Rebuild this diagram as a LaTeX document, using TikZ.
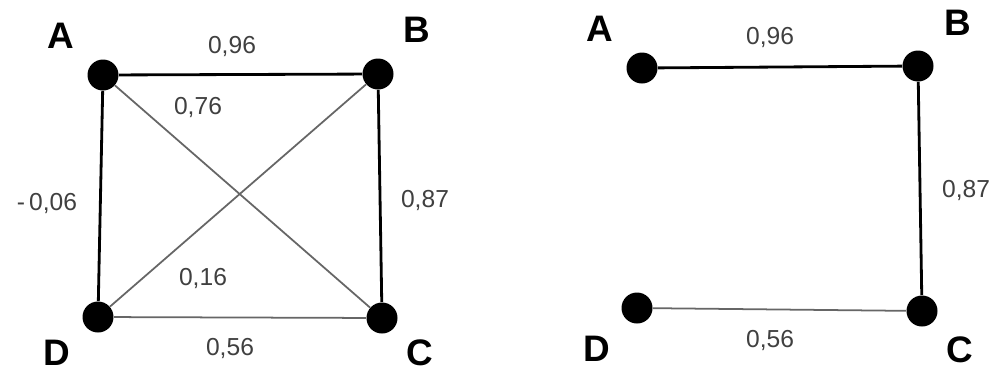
\documentclass[tikz,border=0pt]{standalone}
\usepackage{fontspec}
\setmainfont{Liberation Sans}
\usetikzlibrary{positioning}

\tikzset{
    vertex/.style={circle, fill=black, inner sep=0pt, minimum size=0.62cm},
    strong/.style={line width=1.6pt, black},
    weak/.style={line width=1pt, black!60},
    letter/.style={inner sep=0pt, font=\fontsize{21}{21}\selectfont\bfseries},
    weight/.style={inner sep=1pt, font=\fontsize{14}{14}\selectfont, text=black!75},
}

\begin{document}
\begin{tikzpicture}[x=0.02cm, y=-0.02cm]
    \useasboundingbox[fill=white] (0,0) rectangle (989,373);

    % full graph
    \node[vertex] (A1) at (103,75) {};
    \node[vertex] (B1) at (378,74) {};
    \node[vertex] (C1) at (382,318) {};
    \node[vertex] (D1) at (98,317) {};

    \draw[weak] (A1) -- (C1);
    \draw[weak] (B1) -- (D1);
    \draw[weak] (D1) -- (C1);
    \draw[strong] (A1) -- (B1);
    \draw[strong] (B1) -- (C1);
    \draw[strong] (A1) -- (D1);

    \node[letter] (la1) at (61,36) {A};
    \node[letter] (lb1) at (417,30) {B};
    \node[letter] (lc1) at (420,353) {C};
    \node[letter] (ld1) at (57,353) {D};

    \node[weight] (w_ab1) at (232,46) {0,96};
    \node[weight] (w_ac1) at (198,107) {0,76};
    \node[weight] (w_ad1) at (47,203) {-\,0,06};
    \node[weight] (w_bc1) at (425,200) {0,87};
    \node[weight] (w_bd1) at (203,278) {0,16};
    \node[weight] (w_dc1) at (230,348) {0,56};

    % reduced graph
    \node[vertex] (A2) at (642,68) {};
    \node[vertex] (B2) at (918,66) {};
    \node[vertex] (C2) at (922,311) {};
    \node[vertex] (D2) at (637,308) {};

    \draw[weak] (D2) -- (C2);
    \draw[strong] (A2) -- (B2);
    \draw[strong] (B2) -- (C2);

    \node[letter] (la2) at (600,29) {A};
    \node[letter] (lb2) at (958,23) {B};
    \node[letter] (lc2) at (960,350) {C};
    \node[letter] (ld2) at (597,349) {D};

    \node[weight] (w_ab2) at (770,37) {0,96};
    \node[weight] (w_bc2) at (966,190) {0,87};
    \node[weight] (w_dc2) at (770,340) {0,56};
\end{tikzpicture}
\end{document}
